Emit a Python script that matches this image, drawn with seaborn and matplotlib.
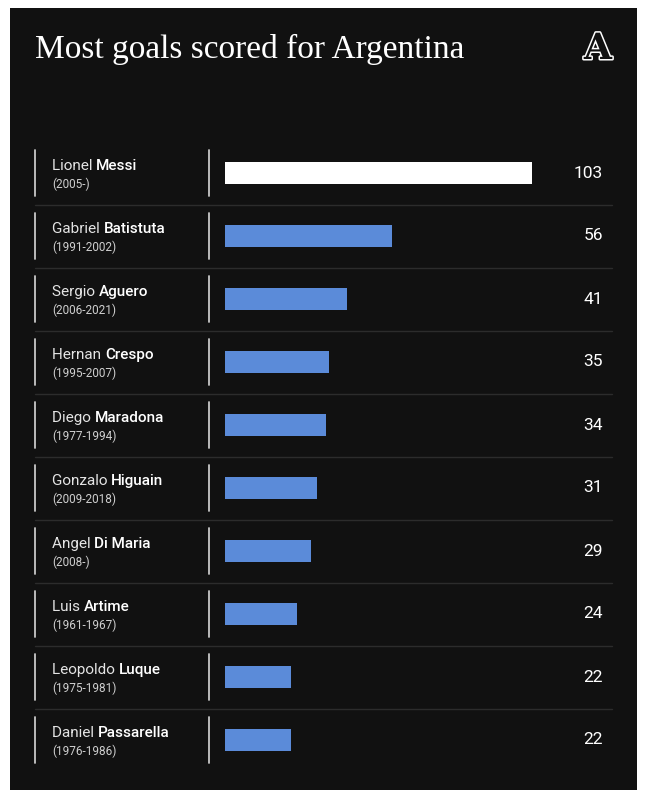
import pandas as pd
import matplotlib.pyplot as plt
import matplotlib.transforms as mtrans
import matplotlib.patheffects as pe
from matplotlib.patches import Rectangle
import seaborn as sns

first_names = ["Lionel", "Gabriel", "Sergio", "Hernan", "Diego",
               "Gonzalo", "Angel", "Luis", "Leopoldo", "Daniel"]
last_names = ["Messi", "Batistuta", "Aguero", "Crespo", "Maradona",
              "Higuain", "Di Maria", "Artime", "Luque", "Passarella"]
years = ["(2005-)", "(1991-2002)", "(2006-2021)", "(1995-2007)", "(1977-1994)",
         "(2009-2018)", "(2008-)", "(1961-1967)", "(1975-1981)", "(1976-1986)"]
goals = [103, 56, 41, 35, 34, 31, 29, 24, 22, 22]

BG = "#111111"
BLUE = "#5b8bd9"

data = pd.DataFrame({"player": [f + " " + l for f, l in zip(first_names, last_names)],
                     "goals": goals})
palette = {p: ("#ffffff" if i == 0 else BLUE) for i, p in enumerate(data["player"])}

sns.set_theme(style="white")
plt.rcParams["font.family"] = ["Roboto", "DejaVu Sans"]

fig = plt.figure(figsize=(6.45, 8), dpi=100, facecolor="white")
W, H = 645, 800
fig.patches.append(Rectangle((10 / W, 10 / H), 627 / W, 782 / H,
                             transform=fig.transFigure, facecolor=BG,
                             edgecolor="none", zorder=-10))

ax = fig.add_axes([225 / W, 28.5 / H, 387 / W, 630 / H])
ax.set_facecolor("none")
sns.barplot(data=data, x="goals", y="player", hue="player", palette=palette,
            width=0.35, saturation=1, legend=False, linewidth=0, ax=ax)
ax.set_xlim(0, 387 / 2.98)
ax.set_ylim(len(goals) - 0.5, -0.5)
ax.axis("off")

# x in figure fraction, y in data rows
tr = mtrans.blended_transform_factory(fig.transFigure, ax.transData)

for i in range(len(goals)):
    # vertical rules
    for xp in (35, 209):
        ax.plot([xp / W, xp / W], [i - 0.365, i + 0.365], transform=tr,
                color="#c8c8c8", lw=1.3, clip_on=False)
    # row separators
    if i < len(goals) - 1:
        ax.plot([35 / W, 612 / W], [i + 0.5, i + 0.5], transform=tr,
                color="#2c2c2c", lw=1.0, clip_on=False)
    t1 = ax.text(52 / W, i - 0.11, first_names[i] + " ", transform=tr,
                 color="#e4e4e4", fontsize=11, va="center", ha="left")
    ax.annotate(last_names[i], xy=(1, 0), xycoords=t1, va="bottom", ha="left",
                color="white", fontsize=11, fontweight="medium")
    ax.text(52 / W, i + 0.18, years[i], transform=tr, color="#cfcfcf",
            fontsize=8.5, va="center", ha="left")
    ax.text(603 / W, i, str(goals[i]), transform=tr, color="white",
            fontsize=12.5, va="center", ha="right")

fig.text(35 / W, 1 - 49 / H, "Most goals scored for Argentina",
         family=["Liberation Serif", "DejaVu Serif"], fontsize=24,
         color="white", va="center", ha="left")

fig.text(598 / W, 1 - 49 / H, "A", family=["DejaVu Serif"], fontsize=26,
         fontweight="bold", color=BG, va="center", ha="center",
         path_effects=[pe.withStroke(linewidth=2.2, foreground="white")])

fig.savefig("out.png", dpi=100, facecolor="white")
